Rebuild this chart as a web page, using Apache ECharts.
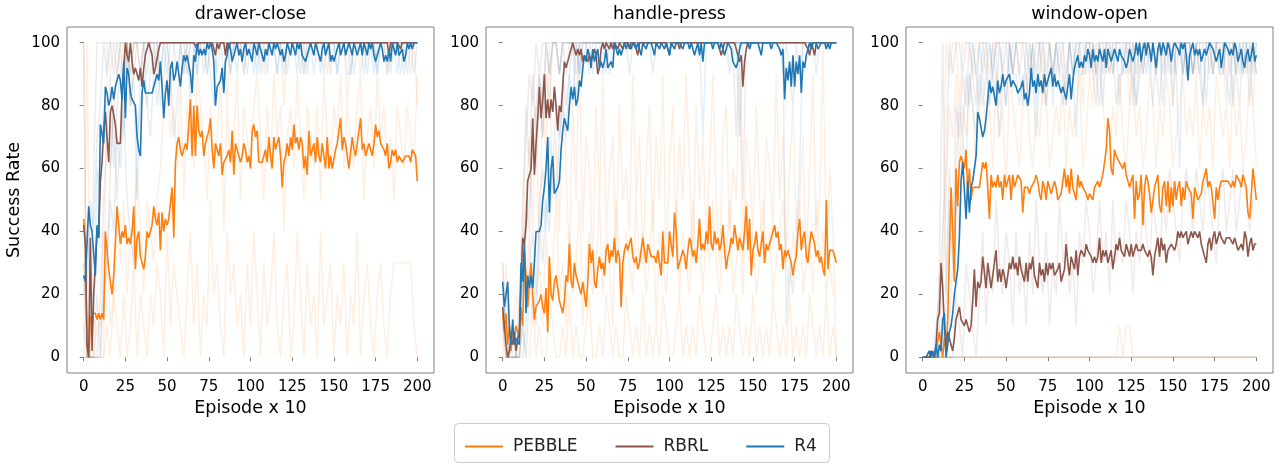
<!DOCTYPE html>
<html>
<head>
<meta charset="utf-8">
<script src="https://cdn.jsdelivr.net/npm/echarts@6/dist/echarts.min.js"></script>
<style>html,body{margin:0;padding:0;background:#fff}#main{width:1280px;height:468px}</style>
</head>
<body>
<div id="main"></div>
<script>
// ticks and names
const X_TICKS = [0, 25, 50, 75, 100, 125, 150, 175, 200];
const Y_TICKS = [0, 20, 40, 60, 80, 100];
const TASKS = ['drawer-close', 'handle-press', 'window-open'];
const METHODS = ['PEBBLE', 'RBRL', 'R4'];

// mean success rate, one value per episode x10 (0..200)
const drawerPebble = [44,36,4,0,12,14,14,14,12,14, 12,14,12,40,40,28,24,20,26,26, 48,42,36,40,38,42,36,38,36,40, 48,28,38,40,32,30,28,32,40,38, 40,42,48,44,42,46,34,46,40,44,
  42,44,44,54,38,62,68,70,66,64, 64,68,66,74,82,64,80,64,80,72, 70,72,64,68,70,72,76,66,60,68, 68,64,68,58,62,62,64,66,62,72, 58,68,66,64,62,64,68,66,62,64,
  60,72,74,70,72,62,62,62,62,66, 62,70,64,60,70,66,66,70,64,54, 62,64,68,64,70,66,74,68,70,66, 70,68,60,64,58,72,64,66,68,62, 70,64,62,68,68,60,70,60,64,60,
  60,66,68,72,76,66,70,68,64,60, 60,70,66,64,68,72,76,66,68,64, 66,68,66,64,68,74,70,72,68,68, 66,64,68,60,62,66,64,66,62,64, 64,62,62,64,64,64,62,66,66,64, 56];
const drawerRbrl = [42,36,4,0,38,2,20,30,40,38, 56,62,72,78,70,62,78,80,80,74, 68,68,68,84,92,100,96,94,100,94, 90,92,92,88,92,86,92,96,98,100, 100,96,90,92,92,98,100,100,100,100,
  100,100,100,100,100,100,100,100,100,100, 100,100,100,100,100,100,100,100,98,100, 100,100,100,100,100,100,100,100,98,96, 100,98,100,100,100,96,100,98,100,100, 100,100,100,100,100,100,100,100,100,100,
  100,100,100,100,100,100,100,100,100,100, 100,100,100,100,100,100,100,100,100,100, 100,100,100,100,100,100,100,100,100,100, 100,100,100,100,100,100,100,100,100,100, 100,100,100,100,100,100,100,100,100,100,
  100,100,100,100,100,100,100,100,100,100, 100,100,100,100,100,100,100,100,100,100, 100,100,100,100,100,100,100,100,100,100, 100,100,100,96,100,100,100,100,100,100, 98,100,100,100,100,100,100,100,100,100, 100];
const drawerR4 = [26,24,36,48,42,40,40,26,42,38, 74,74,68,86,84,80,82,86,82,86, 88,90,88,82,94,76,92,90,84,82, 82,80,70,66,64,84,88,84,84,84, 84,84,84,88,90,88,94,86,76,84,
  88,80,92,94,88,90,94,90,86,92, 96,94,96,96,90,84,96,94,100,96, 98,96,98,96,100,98,100,98,94,80, 86,86,88,92,84,94,96,100,98,94, 96,98,100,96,98,94,98,100,96,98,
  98,94,100,98,96,100,98,96,94,98, 96,100,98,96,100,98,100,98,96,98, 94,96,100,98,96,100,98,96,100,98, 100,96,96,94,96,98,100,98,96,100, 98,96,94,98,100,96,98,100,94,96,
  94,94,98,100,96,98,100,96,98,100, 98,96,100,98,96,98,100,96,100,98, 96,100,98,100,96,94,96,98,100,98, 94,96,94,98,94,100,98,96,100,96, 96,98,94,96,100,98,100,98,100,100, 100];

const handlePebble = [14,8,14,4,10,2,8,6,10,8, 6,16,10,34,26,16,24,30,20,12, 16,16,18,20,16,14,22,8,32,20, 18,24,26,22,18,16,14,18,26,24, 36,24,22,30,26,24,22,20,24,20,
  16,24,36,30,34,24,22,28,32,28, 30,26,34,36,30,34,32,38,30,34, 32,16,30,34,36,34,36,38,32,30, 32,28,30,34,38,34,30,36,34,32, 32,32,30,34,30,26,40,30,30,30,
  40,36,32,46,40,28,30,32,34,32, 28,34,38,36,32,34,30,36,44,34, 36,34,40,36,48,36,34,40,36,38, 34,36,42,34,28,32,34,38,36,42, 38,34,38,36,34,40,48,34,44,26,
  34,36,40,34,32,36,40,30,36,34, 36,38,40,42,38,40,34,36,28,34, 32,34,32,30,26,30,32,40,44,34, 38,40,32,30,36,40,38,36,32,34, 30,32,28,26,50,28,34,34,34,34, 30];
const handleRbrl = [16,10,4,0,2,6,4,8,2,6, 8,24,38,36,42,56,56,60,76,58, 68,76,86,76,82,90,76,82,76,82, 78,86,80,72,80,78,86,94,92,94, 96,98,100,98,96,98,96,98,94,96,
  96,94,96,94,96,98,96,90,92,98, 100,98,100,100,98,100,98,100,100,98, 100,100,98,100,100,100,98,100,100,100, 100,96,100,100,100,100,100,100,100,100, 100,100,100,100,100,100,100,100,100,98,
  96,100,100,100,100,100,98,100,100,100, 100,100,100,100,100,100,100,100,100,100, 100,100,100,100,100,100,100,100,100,100, 98,96,98,100,100,100,100,100,100,100, 100,96,94,96,86,94,98,100,100,100,
  100,100,100,100,100,100,100,100,100,100, 100,100,100,100,100,100,100,100,100,100, 100,100,100,100,100,100,100,100,100,100, 100,100,100,98,96,100,98,96,100,100, 100,100,100,100,100,100,100,100,100,100, 100];
const handleR4 = [24,16,20,24,10,4,12,4,6,6, 4,30,24,36,14,26,22,26,22,30, 40,40,40,42,50,54,60,70,46,60, 64,52,52,54,56,66,72,76,74,72, 80,86,82,86,80,82,88,86,92,96,
  94,98,96,92,98,94,96,98,92,94, 92,94,98,92,92,94,92,100,100,96, 98,96,98,100,98,100,100,98,100,100, 98,100,100,96,100,100,98,100,100,100, 98,96,100,100,98,100,100,98,100,100,
  96,100,100,98,100,100,100,100,98,100, 100,100,98,100,100,96,98,100,96,100, 94,100,100,100,100,100,98,100,100,100, 98,100,100,96,98,100,100,98,94,94, 92,94,98,100,100,100,100,100,98,100,
  100,100,100,100,98,96,100,100,100,100, 100,98,100,100,100,100,98,96,98,82, 92,88,94,86,96,86,94,90,96,84, 94,92,96,98,100,98,100,100,100,98, 98,100,100,100,98,100,98,100,100,100, 100];

const windowPebble = [0,0,0,0,0,0,0,0,2,2, 8,4,0,6,2,12,12,54,40,24, 60,48,62,64,62,60,66,52,60,50, 54,54,54,54,54,58,62,60,62,54, 44,58,54,56,54,58,54,56,50,58,
  54,54,58,50,58,54,54,58,58,56, 46,54,54,54,52,54,54,56,58,56, 52,50,56,54,50,56,54,52,54,56, 54,50,50,52,56,60,54,58,52,60, 54,52,50,58,54,56,54,54,52,50,
  52,52,50,54,54,56,54,56,58,62, 66,76,72,60,58,66,64,64,62,62, 60,62,58,56,54,54,58,44,56,50, 52,58,42,54,58,56,52,46,50,54, 56,58,48,46,54,56,48,56,46,54,
  48,56,50,54,56,48,54,50,56,54, 54,52,44,54,52,50,50,52,56,58, 60,54,56,54,54,44,54,50,54,56, 56,56,56,56,56,54,56,54,58,58, 56,54,58,56,54,46,44,52,60,60, 50];
const windowRbrl = [0,0,0,0,0,2,2,0,4,12, 14,30,22,10,4,8,6,4,2,6, 12,14,16,12,12,10,12,12,8,10, 18,28,16,24,22,24,32,32,22,30, 26,22,26,30,34,24,28,24,28,26,
  22,22,30,28,32,28,30,26,32,28, 26,24,30,24,30,28,32,26,26,22, 30,26,28,24,30,26,30,28,30,26, 26,28,30,24,26,28,36,30,26,32, 30,28,34,26,32,34,34,32,36,34,
  34,32,30,32,30,32,38,30,34,32, 34,30,32,34,28,32,36,34,38,34, 34,32,36,34,32,36,32,34,36,34, 34,34,36,34,34,32,34,32,26,32, 32,38,32,38,34,36,30,34,34,36,
  36,34,36,40,38,40,38,38,40,36, 38,40,38,40,40,38,40,36,34,32, 30,36,38,34,38,40,36,38,40,38, 38,36,38,38,38,38,36,38,36,34, 34,36,34,40,38,32,36,38,34,36, 36];
const windowR4 = [0,0,0,0,2,0,2,0,4,0, 4,2,12,14,0,4,8,10,14,20, 20,28,38,56,62,62,44,56,46,54, 56,56,64,78,76,76,70,72,76,82, 88,84,86,86,80,88,84,86,90,86,
  88,88,90,86,88,88,86,84,84,86, 88,82,84,80,84,92,86,88,84,90, 86,88,84,90,86,88,90,92,86,90, 86,88,86,84,86,84,82,86,90,82, 88,92,94,96,92,94,92,96,94,98,
  96,92,98,94,96,94,98,96,94,98, 92,98,96,94,96,98,96,94,98,96, 96,94,92,94,98,96,94,96,100,96, 100,94,98,100,96,100,98,94,100,96, 92,98,100,96,100,98,96,100,98,94,
  98,100,100,98,96,100,98,100,96,88, 96,98,100,96,98,96,98,94,96,98, 96,98,100,100,98,96,94,96,98,92, 96,100,100,98,96,98,96,100,98,94, 96,98,94,92,96,98,94,96,100,94, 96];

// single runs, in tenths, one value every 2 (episode x10 = 0,2,..,200)
const drawerPebbleSeeds = [
  [10,0,0,0,0,0,0,10,9,10, 10,9,10,10,8,10,10,9,10,10, 10,10,9,10,10,10,8,10,10,10, 10,9,10,10,10,10,10,9,10,10, 10,10,10,8,10,10,10,10,9,10, 10,10,10,10,9,10,10,10,10,10, 8,10,10,10,10,10,9,10,10,10, 10,10,10,9,10,10,10,10,10,8, 10,10,10,9,10,10,10,10,10,10, 10,9,10,10,10,10,10,10,9,10, 8],
  [0,10,0,0,1,1,2,3,1,2, 4,3,5,2,4,3,6,4,2,5, 4,3,5,6,8,9,7,8,6,9, 5,8,7,6,9,8,7,5,8,6, 7,9,4,8,6,7,9,5,8,7, 6,8,9,7,5,8,6,9,7,8, 4,7,8,6,9,7,5,8,7,6, 8,5,9,7,6,8,7,9,6,8, 7,6,8,9,5,7,8,6,9,7, 8,6,7,5,8,7,6,8,7,6, 9],
  [0,0,0,0,0,0,0,1,0,2, 1,0,2,0,1,3,0,2,1,0, 2,1,3,2,0,4,1,3,2,1, 0,2,4,1,3,0,2,1,5,2, 3,1,0,4,2,3,1,2,0,3, 1,4,2,0,3,1,2,4,1,0, 2,3,0,1,4,2,0,3,1,2, 0,4,1,2,3,0,2,1,3,0, 2,1,4,0,2,3,1,0,2,3, 1,0,2,3,3,3,3,3,3,1, 0]
];
const drawerRbrlSeeds = [
  [10,0,0,6,10,10,10,10,10,9, 10,10,10,10,10,10,10,10,10,10, 10,10,10,10,10,10,10,10,10,10, 10,10,10,10,10,10,10,10,10,10, 10,10,10,10,10,10,10,10,10,10, 10,10,10,10,10,10,10,10,10,10, 10,10,10,10,10,10,10,10,10,10, 10,10,10,10,10,10,10,10,10,10, 10,10,10,10,10,10,10,10,10,10, 10,10,10,10,10,10,10,10,10,10, 10],
  [0,0,0,0,0,2,5,7,6,8, 9,10,8,10,9,10,10,9,10,10, 10,10,10,10,10,10,10,10,10,10, 10,10,10,10,10,10,10,10,10,10, 10,10,10,10,10,10,10,10,10,10, 10,10,10,10,10,10,10,10,10,10, 10,10,10,10,10,10,10,10,10,10, 10,10,10,10,10,10,10,10,10,10, 10,10,10,10,10,10,10,10,10,10, 10,10,10,10,10,10,10,10,10,10, 10],
  [3,0,0,0,2,0,4,3,6,8, 5,7,9,10,8,9,10,10,10,10, 10,10,10,10,10,10,10,10,10,10, 10,10,10,10,10,10,10,10,10,10, 10,10,10,10,10,10,10,10,10,10, 10,10,10,10,10,10,10,10,10,10, 10,10,10,10,10,10,10,10,10,10, 10,10,10,10,10,10,10,10,10,10, 10,10,10,10,10,10,10,10,10,10, 10,10,10,10,10,10,10,10,10,10, 10]
];
const drawerR4Seeds = [
  [3,2,5,4,7,8,10,9,10,10, 9,10,10,10,9,10,10,10,10,9, 10,10,10,9,10,10,10,10,10,10, 9,10,10,10,10,10,9,10,10,10, 10,10,10,10,9,10,10,10,10,10, 10,9,10,10,10,10,10,10,9,10, 10,10,10,10,10,10,9,10,10,10, 10,10,9,10,10,10,10,10,10,10, 9,10,10,10,10,10,10,9,10,10, 10,10,10,10,9,10,10,10,10,10, 10],
  [2,4,3,1,6,5,8,7,9,6, 8,9,7,10,8,9,5,9,10,8, 9,10,8,9,10,9,10,10,9,10, 10,9,10,10,9,10,10,10,9,8, 10,10,9,10,10,10,9,10,10,9, 10,10,10,9,10,10,10,10,9,10, 10,9,10,10,10,9,10,10,10,9, 10,10,10,10,9,10,9,10,10,10, 10,9,10,10,10,9,10,10,9,10, 10,9,10,10,10,9,10,9,10,10, 10],
  [1,0,0,0,0,0,2,3,5,4, 7,6,8,5,4,3,7,8,9,8, 7,9,10,8,9,10,9,7,8,10, 9,10,8,10,9,10,10,9,10,10, 9,10,10,10,9,10,10,10,9,10, 10,10,9,10,10,9,10,10,10,10, 9,10,10,10,9,10,10,9,10,10, 10,9,10,10,10,10,9,10,10,9, 9,10,10,10,9,10,10,10,9,10, 10,10,9,10,10,10,9,10,10,9, 10]
];

const handlePebbleSeeds = [
  [3,0,0,1,0,0,3,5,7,4, 8,3,9,6,10,5,7,4,9,6, 3,8,5,10,4,7,6,3,8,5, 9,4,6,7,3,8,5,6,4,9, 5,7,3,6,8,4,7,5,9,3, 6,8,4,7,5,9,6,3,8,5, 7,4,6,9,5,3,7,8,4,6, 5,9,3,7,6,4,8,5,3,7, 6,4,9,5,7,3,6,8,4,5, 7,3,6,9,4,5,10,3,6,4, 0],
  [0,3,0,1,2,1,3,2,4,1, 2,3,1,4,2,3,5,2,3,1, 4,2,3,5,1,3,4,2,3,5, 2,4,3,1,5,3,2,4,3,2, 5,3,4,2,3,5,1,4,3,2, 4,3,5,2,4,3,2,5,3,4, 2,4,3,5,3,2,4,3,5,2, 3,4,2,5,3,4,2,3,5,3, 4,2,3,4,5,3,2,4,3,5, 2,3,4,2,5,3,4,2,3,2, 2],
  [1,0,0,0,0,0,1,0,0,2, 0,1,0,0,2,1,0,0,1,0, 2,0,1,0,0,1,2,0,0,1, 0,2,1,0,1,0,0,2,1,0, 1,0,2,0,1,0,1,0,2,1, 0,0,1,2,0,1,0,1,0,2, 1,0,0,1,2,0,1,0,1,0, 2,1,0,1,0,2,0,1,0,1, 0,2,1,0,1,0,2,0,1,0, 1,0,2,1,0,1,0,2,0,1, 0]
];
const handleRbrlSeeds = [
  [2,0,0,0,0,1,4,7,9,8, 10,9,10,10,10,10,10,10,10,10, 10,10,10,10,10,10,10,10,10,10, 10,10,10,10,10,10,10,10,10,10, 10,10,10,10,10,10,10,10,10,10, 10,10,10,10,10,10,10,10,10,10, 10,10,10,10,10,10,10,10,10,10, 10,10,10,10,10,10,10,10,10,10, 10,10,10,10,10,10,10,10,10,10, 10,10,10,10,10,10,10,10,10,10, 10],
  [0,0,0,0,0,2,5,8,6,9, 7,9,8,10,9,10,10,9,10,10, 10,10,10,10,10,10,10,10,10,10, 10,10,10,10,10,10,10,10,10,10, 10,10,10,10,10,10,10,10,10,10, 10,10,10,10,10,10,10,10,10,10, 10,10,10,10,10,10,10,10,10,10, 10,10,5,10,10,10,10,10,10,10, 10,10,10,10,10,10,10,10,10,10, 10,10,10,10,10,10,10,10,10,10, 10],
  [1,0,0,0,0,1,3,5,4,7, 6,8,7,9,8,10,10,9,10,9, 10,10,9,10,10,10,10,10,10,10, 10,10,10,10,10,10,10,10,10,10, 10,10,10,10,10,10,10,10,10,10, 10,10,10,10,10,10,10,10,10,10, 10,10,10,10,10,10,10,10,10,10, 10,10,10,10,10,10,10,10,10,10, 10,10,10,10,10,10,10,10,10,10, 10,10,10,10,10,10,10,10,10,10, 10]
];
const handleR4Seeds = [
  [3,1,0,0,0,0,2,4,5,7, 8,9,7,10,9,10,10,9,10,10, 10,10,10,9,10,10,10,10,10,10, 9,10,10,10,10,10,10,10,10,10, 10,10,10,10,10,10,10,10,10,10, 10,10,10,10,10,10,10,10,10,10, 10,10,10,10,10,10,10,10,10,10, 10,10,10,10,10,10,10,10,10,10, 10,10,10,10,10,1,3,2,4,6, 10,10,10,10,10,10,10,10,10,10, 10],
  [1,2,1,0,0,0,0,1,3,4, 2,5,6,4,7,6,8,7,9,8, 9,10,8,10,9,10,10,9,10,10, 10,9,10,10,10,10,10,10,9,10, 10,10,10,10,10,10,10,10,10,10, 10,10,10,10,10,10,10,10,10,10, 7,10,10,10,10,10,10,10,9,10, 7,10,10,10,10,10,10,10,10,10, 10,10,10,10,9,10,9,8,10,9, 10,10,10,10,9,10,10,10,10,10, 10],
  [2,1,0,1,0,0,1,0,2,3, 1,4,3,5,4,6,5,7,8,7, 9,8,10,9,10,10,9,10,10,10, 10,10,9,10,10,10,10,10,10,10, 10,10,10,10,10,9,10,10,10,10, 10,10,10,10,10,10,10,10,10,10, 10,10,10,10,10,10,10,10,10,10, 10,7,10,10,10,10,10,10,10,10, 10,10,10,10,10,10,10,10,10,10, 10,10,10,10,10,10,10,10,10,10, 10]
];

const windowPebbleSeeds = [
  [0,0,0,0,0,1,3,10,9,10, 10,8,10,10,10,9,10,10,10,10, 9,10,10,8,10,10,10,9,10,10, 10,10,9,10,10,10,8,10,10,9, 10,10,10,9,10,10,10,10,8,10, 10,9,10,10,10,10,9,10,10,10, 10,10,8,10,10,9,10,10,10,10, 9,10,10,10,10,8,10,10,9,10, 10,10,9,10,10,10,10,9,10,10, 10,8,10,10,9,10,10,10,10,8, 10],
  [0,0,0,0,0,0,2,5,8,7, 9,6,8,7,9,8,6,8,9,7, 8,6,9,7,8,5,9,8,7,6, 8,9,7,6,8,7,9,8,6,7, 8,7,9,6,8,7,8,9,6,7, 9,8,10,9,8,7,6,8,7,9, 7,6,8,9,7,8,6,7,9,8, 6,8,7,9,8,6,7,8,9,7, 8,7,9,6,8,7,8,6,9,8, 7,8,6,9,7,8,6,7,9,8, 6],
  [0,0,0,0,0,0,0,0,0,0, 0,0,0,0,0,0,0,0,0,0, 0,0,0,0,0,0,0,0,0,0, 0,0,0,0,0,0,0,0,0,0, 0,0,0,0,0,0,0,0,0,0, 0,0,0,0,0,0,0,0,0,1, 0,1,1,0,0,0,0,0,0,0, 0,0,0,0,0,0,0,0,0,0, 0,0,0,0,0,0,0,0,0,0, 0,0,0,0,0,0,0,0,0,0, 0],
  [0,0,0,0,0,0,0,0,0,0, 0,0,0,0,0,0,0,0,0,0, 0,0,0,0,0,0,0,0,0,0, 0,0,0,0,0,0,0,0,0,0, 0,0,0,0,0,0,0,0,0,0, 0,0,0,0,0,0,0,0,0,0, 0,0,0,0,0,0,0,0,0,0, 0,0,0,0,0,0,0,0,0,0, 0,0,0,0,0,0,0,0,0,0, 0,0,0,0,0,0,0,0,0,0, 0]
];
const windowRbrlSeeds = [
  [0,0,0,0,0,3,10,2,6,4, 8,7,9,8,10,9,8,10,9,10, 8,9,10,10,9,8,10,9,10,9, 10,9,8,10,9,10,9,8,10,9, 9,10,9,8,10,9,10,9,9,10, 10,9,8,10,9,10,9,10,8,9, 9,10,9,10,8,9,10,9,10,10, 9,8,10,9,10,9,10,10,9,10, 10,9,10,9,8,10,9,10,10,9, 9,10,9,10,9,8,10,9,10,9, 10],
  [0,0,0,0,0,0,0,0,0,0, 2,1,0,3,2,1,0,2,4,1, 3,2,5,3,2,4,3,1,4,2, 3,1,4,2,5,3,2,4,1,3, 2,5,3,4,2,3,1,4,3,5, 4,2,3,5,3,4,2,5,3,4, 3,5,4,2,4,3,5,4,3,5, 4,3,5,4,6,5,4,3,5,6, 5,4,6,5,4,6,5,4,3,5, 6,4,5,6,4,5,6,5,4,5, 5],
  [0,0,0,0,0,0,0,0,0,0, 0,0,0,0,0,0,0,0,0,0, 0,0,0,0,0,0,0,0,0,0, 0,0,0,0,0,0,0,0,0,0, 0,0,0,0,0,0,0,0,0,0, 0,0,0,0,0,0,0,0,0,0, 0,0,0,0,0,0,0,0,0,0, 0,0,0,0,0,0,0,0,0,0, 0,0,0,0,0,0,0,0,0,0, 0,0,0,0,0,0,0,0,0,0, 0],
  [0,0,0,0,0,0,0,0,0,0, 0,0,0,0,0,0,0,0,0,0, 0,0,0,0,0,0,0,0,0,0, 0,0,0,0,0,0,0,0,0,0, 0,0,0,0,0,0,0,0,0,0, 0,0,0,0,0,0,0,0,0,0, 0,0,0,0,0,0,0,0,0,0, 0,0,0,0,0,0,0,0,0,0, 0,0,0,0,0,0,0,0,0,0, 0,0,0,0,0,0,0,0,0,0, 0]
];
const windowR4Seeds = [
  [0,0,0,0,1,2,4,6,10,9, 10,10,9,10,10,10,9,10,10,10, 10,9,10,10,10,10,10,9,10,10, 10,10,10,9,10,10,10,10,10,9, 10,10,10,10,10,9,10,10,10,10, 10,10,9,10,10,10,10,10,10,10, 10,10,10,10,9,10,10,10,10,10, 10,10,10,10,10,10,9,10,10,10, 10,9,10,10,10,10,10,10,10,10, 10,10,10,10,10,10,9,10,10,10, 10],
  [0,0,0,0,0,1,0,2,5,3, 6,8,7,9,8,10,9,8,10,9, 10,9,8,10,9,10,9,10,10,9, 8,10,9,10,8,10,10,9,10,8, 10,9,10,8,10,10,9,10,10,9, 10,10,9,10,8,10,10,9,10,10, 9,10,10,8,10,10,9,10,10,8, 10,10,9,10,10,8,10,10,9,10, 10,9,10,10,8,10,10,9,10,10, 9,10,10,8,10,9,10,10,9,10, 9],
  [0,0,0,0,0,0,1,0,1,3, 5,4,7,6,9,8,7,9,8,9, 8,10,9,7,9,8,10,9,9,8, 9,8,10,9,7,9,10,8,9,9, 10,9,8,9,10,9,7,10,9,10, 9,10,9,8,10,9,10,9,10,8, 10,9,10,9,8,10,9,10,9,10, 9,10,8,10,9,10,9,6,10,9, 10,9,10,9,10,8,10,9,10,9, 10,9,8,10,9,10,9,10,8,10, 9]
];

const FONT = 'DejaVu Sans';
const COLORS = ['#ff7f0e', '#8c564b', '#1f77b4'];
const FRAME = '#808080';

const panels = [
  { means: [drawerPebble, drawerRbrl, drawerR4], seeds: [drawerPebbleSeeds, drawerRbrlSeeds, drawerR4Seeds] },
  { means: [handlePebble, handleRbrl, handleR4], seeds: [handlePebbleSeeds, handleRbrlSeeds, handleR4Seeds] },
  { means: [windowPebble, windowRbrl, windowR4], seeds: [windowPebbleSeeds, windowRbrlSeeds, windowR4Seeds] }
];
const gridLefts = [67, 486, 906];
const gridW = 367, gridTop = 27, gridH = 346;

const grids = [], xAxes = [], yAxes = [], series = [], graphics = [];

panels.forEach((p, gi) => {
  grids.push({ left: gridLefts[gi], top: gridTop, width: gridW, height: gridH, show: true, borderColor: FRAME, borderWidth: 1 });
  xAxes.push({
    type: 'value', gridIndex: gi, min: -10, max: 210,
    name: 'Episode x 10', nameLocation: 'middle', nameGap: 24,
    nameTextStyle: { fontFamily: FONT, fontSize: 17.5, color: '#000' },
    axisLine: { show: false }, splitLine: { show: false },
    axisTick: { show: true, length: 4, customValues: X_TICKS, lineStyle: { color: FRAME } },
    axisLabel: { customValues: X_TICKS, margin: 7, fontFamily: FONT, fontSize: 15, color: '#000' }
  });
  yAxes.push({
    type: 'value', gridIndex: gi, min: -5, max: 105,
    name: gi === 0 ? 'Success Rate' : '', nameLocation: 'middle', nameGap: 44,
    nameTextStyle: { fontFamily: FONT, fontSize: 17.5, color: '#000' },
    axisLine: { show: false }, splitLine: { show: false },
    axisTick: { show: true, length: 4, customValues: Y_TICKS, lineStyle: { color: FRAME } },
    axisLabel: { customValues: Y_TICKS, margin: 7, fontFamily: FONT, fontSize: 15, color: '#000' }
  });

  // faint single runs first
  p.seeds.forEach((runs, mi) => {
    runs.forEach(run => {
      series.push({
        type: 'line', name: METHODS[mi] + ' run', xAxisIndex: gi, yAxisIndex: gi,
        data: run.map((v, i) => [2 * i, v * 10]),
        symbol: 'none', silent: true, animation: false,
        lineStyle: { color: COLORS[mi], width: 1.5, opacity: 0.12 }
      });
    });
  });
  // then the means
  p.means.forEach((arr, mi) => {
    series.push({
      type: 'line', name: METHODS[mi], xAxisIndex: gi, yAxisIndex: gi,
      data: arr.map((v, i) => [i, v]),
      symbol: 'none', animation: false, color: COLORS[mi],
      lineStyle: { color: COLORS[mi], width: 1.6 }
    });
  });

  graphics.push({
    type: 'text', x: gridLefts[gi] + gridW / 2, y: 14,
    style: { text: TASKS[gi], font: '17.5px "DejaVu Sans"', fill: '#000',
      textAlign: 'center', textVerticalAlign: 'middle', align: 'center', verticalAlign: 'middle' }
  });
});

graphics.push({
  type: 'rect', z: 0,
  shape: { x: 454.5, y: 423.5, width: 375, height: 39, r: 4 },
  style: { fill: '#fff', stroke: '#cccccc', lineWidth: 1 }
});

const chart = echarts.init(document.getElementById('main'), null, { renderer: 'canvas' });
chart.setOption({
  animation: false,
  backgroundColor: '#fff',
  grid: grids,
  xAxis: xAxes,
  yAxis: yAxes,
  graphic: graphics,
  legend: {
    data: METHODS, left: 460, top: 433, icon: 'rect', itemWidth: 38, itemHeight: 2, itemGap: 38,
    textStyle: { fontFamily: FONT, fontSize: 17, color: '#222', padding: [0, 0, 0, 5] },
    z: 10
  },
  series: series
});
</script>
</body>
</html>
